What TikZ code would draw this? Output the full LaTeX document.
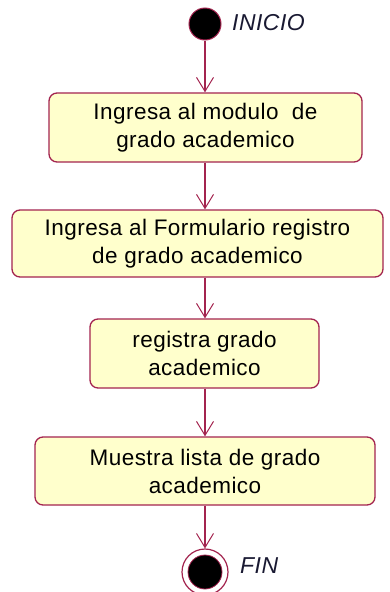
\documentclass[tikz,border=0pt]{standalone}
\usepackage{fontspec}
\setmainfont[LetterSpace=2]{Liberation Sans}
\usetikzlibrary{arrows.meta}
\definecolor{umlred}{RGB}{163,36,79}
\definecolor{umlfill}{RGB}{255,255,204}
\definecolor{labelcol}{RGB}{25,25,50}
\tikzset{
  actbox/.style={draw=umlred, line width=1.3pt, fill=umlfill, rounded corners=8pt,
    align=center, inner sep=0pt, font=\fontsize{22.5}{28}\selectfont},
  flow/.style={draw=umlred, line width=1.3pt, -{Straight Barb[length=14pt,width=17pt,line width=1pt]}},
  lbl/.style={font=\fontsize{23}{28}\selectfont\itshape, text=labelcol, anchor=west, inner sep=0pt}
}
\begin{document}
\begin{tikzpicture}[x=1pt,y=-1pt]
\useasboundingbox (0,0) rectangle (389,592);
\node[circle, fill=black, draw=umlred, line width=1pt, minimum size=32pt, inner sep=0pt] (start) at (205,24) {};
\node[lbl] (inicio) at (232,23) {INICIO};
\node[actbox, minimum width=313pt, minimum height=69pt] (b1) at (205.5,127.5) {Ingresa al modulo \ de\\grado academico};
\node[actbox, minimum width=371pt, minimum height=67pt] (b2) at (197.5,243.5) {Ingresa al Formulario registro\\de grado academico};
\node[actbox, minimum width=229pt, minimum height=69pt] (b3) at (204.5,353.5) {registra grado\\academico};
\node[actbox, minimum width=340pt, minimum height=68pt] (b4) at (205,471) {Muestra lista de grado\\academico};
\node[circle, fill=white, draw=umlred, line width=1.2pt, minimum size=46pt, inner sep=0pt] (fin) at (205,572) {};
\node[circle, fill=black, draw=umlred, line width=0.8pt, minimum size=34pt, inner sep=0pt] (fininner) at (fin.center) {};
\node[lbl] (finlbl) at (240,566) {FIN};
\draw[flow] (start.south) -- (b1.north -| start);
\draw[flow] (b1.south -| start) -- (b2.north -| start);
\draw[flow] (b2.south -| start) -- (b3.north -| start);
\draw[flow] (b3.south -| start) -- (b4.north -| start);
\draw[flow] (b4.south -| start) -- (fin.north);
\end{tikzpicture}
\end{document}
